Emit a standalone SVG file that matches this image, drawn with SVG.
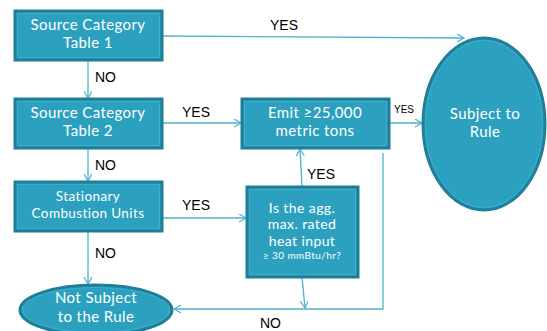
<svg xmlns="http://www.w3.org/2000/svg" width="547" height="331" viewBox="0 0 547 331">
<defs>
<style>
.node{fill:#2ba1bf;stroke:#1f7e98;stroke-width:3}
.inner{fill:none;stroke:#45b0cb;stroke-width:0.8}
.nt{font-family:Lato,"Noto Sans",sans-serif;fill:#ffffff;text-anchor:middle;letter-spacing:0.4px}
.lbl{font-family:"Liberation Sans",Arial,sans-serif;fill:#000000;font-size:14px}
.con{fill:none;stroke:#4db3cc;stroke-width:1.3;marker-end:url(#arr)}
</style>
<marker id="arr" markerWidth="10" markerHeight="10" refX="8" refY="4" orient="auto" markerUnits="userSpaceOnUse">
<path d="M1,0 L8,4 L1,8" fill="none" stroke="#4db3cc" stroke-width="1.2"/>
</marker>
</defs>
<rect width="547" height="331" fill="#ffffff"/>
<g id="connectors">
<path class="con" d="M162,36 L464,38"/>
<path class="con" d="M88,60 L88,98"/>
<path class="con" d="M162,123 L241,123"/>
<path class="con" d="M88,148 L88,181"/>
<path class="con" d="M389,123 L422,123"/>
<path class="con" d="M162,218 L246,218"/>
<path class="con" d="M302,187 L300,149"/>
<path class="con" d="M302,277 L305,308"/>
<path class="con" d="M383,153 L383,309 L174,309"/>
<path class="con" d="M88,231 L88,284"/>
<text class="lbl" x="270" y="30">YES</text>
<text class="lbl" x="95" y="82">NO</text>
<text class="lbl" x="182" y="117">YES</text>
<text class="lbl" x="394" y="113" style="font-size:10px">YES</text>
<text class="lbl" x="95" y="170">NO</text>
<text class="lbl" x="307" y="179">YES</text>
<text class="lbl" x="182" y="210">YES</text>
<text class="lbl" x="95" y="258">NO</text>
<text class="lbl" x="260" y="328">NO</text>
</g>
<g id="table1">
<rect class="node" x="15" y="11" width="147" height="49"/>
<rect class="inner" x="17.5" y="13.5" width="142" height="44"/>
<text class="nt" x="88" y="30" font-size="15">Source Category</text>
<text class="nt" x="88" y="48" font-size="15">Table 1</text>
</g>
<g id="table2">
<rect class="node" x="15" y="99" width="147" height="49"/>
<rect class="inner" x="17.5" y="101.5" width="142" height="44"/>
<text class="nt" x="88" y="118" font-size="15">Source Category</text>
<text class="nt" x="88" y="136" font-size="15">Table 2</text>
</g>
<g id="stationary">
<rect class="node" x="15" y="182" width="147" height="49"/>
<rect class="inner" x="17.5" y="184.5" width="142" height="44"/>
<text class="nt" x="88" y="201" font-size="13.5">Stationary</text>
<text class="nt" x="88" y="218" font-size="13.5">Combustion Units</text>
</g>
<g id="emit">
<rect class="node" x="242" y="99" width="147" height="49"/>
<rect class="inner" x="244.5" y="101.5" width="142" height="44"/>
<text class="nt" x="315" y="118" font-size="15">Emit ≥25,000</text>
<text class="nt" x="315" y="136" font-size="15">metric tons</text>
</g>
<g id="agg">
<rect class="node" x="247" y="187" width="111" height="90"/>
<rect class="inner" x="249.5" y="189.5" width="106" height="85"/>
<text class="nt" x="302" y="213" font-size="14">Is the agg.</text>
<text class="nt" x="302" y="229" font-size="14">max. rated</text>
<text class="nt" x="302" y="246" font-size="14">heat input</text>
<text class="nt" x="302" y="259" font-size="10">≥ 30 mmBtu/hr?</text>
</g>
<g id="subject">
<ellipse class="node" cx="484" cy="124" rx="61" ry="86"/>
<ellipse class="inner" cx="484" cy="124" rx="58.5" ry="83.5"/>
<text class="nt" x="485" y="119" font-size="15">Subject to</text>
<text class="nt" x="485" y="137" font-size="15">Rule</text>
</g>
<g id="notsubject">
<ellipse class="node" cx="96" cy="310" rx="76" ry="25"/>
<ellipse class="inner" cx="96" cy="310" rx="73.5" ry="22.5"/>
<text class="nt" x="96" y="303" font-size="15">Not Subject</text>
<text class="nt" x="96" y="322" font-size="15">to the Rule</text>
</g>
</svg>
